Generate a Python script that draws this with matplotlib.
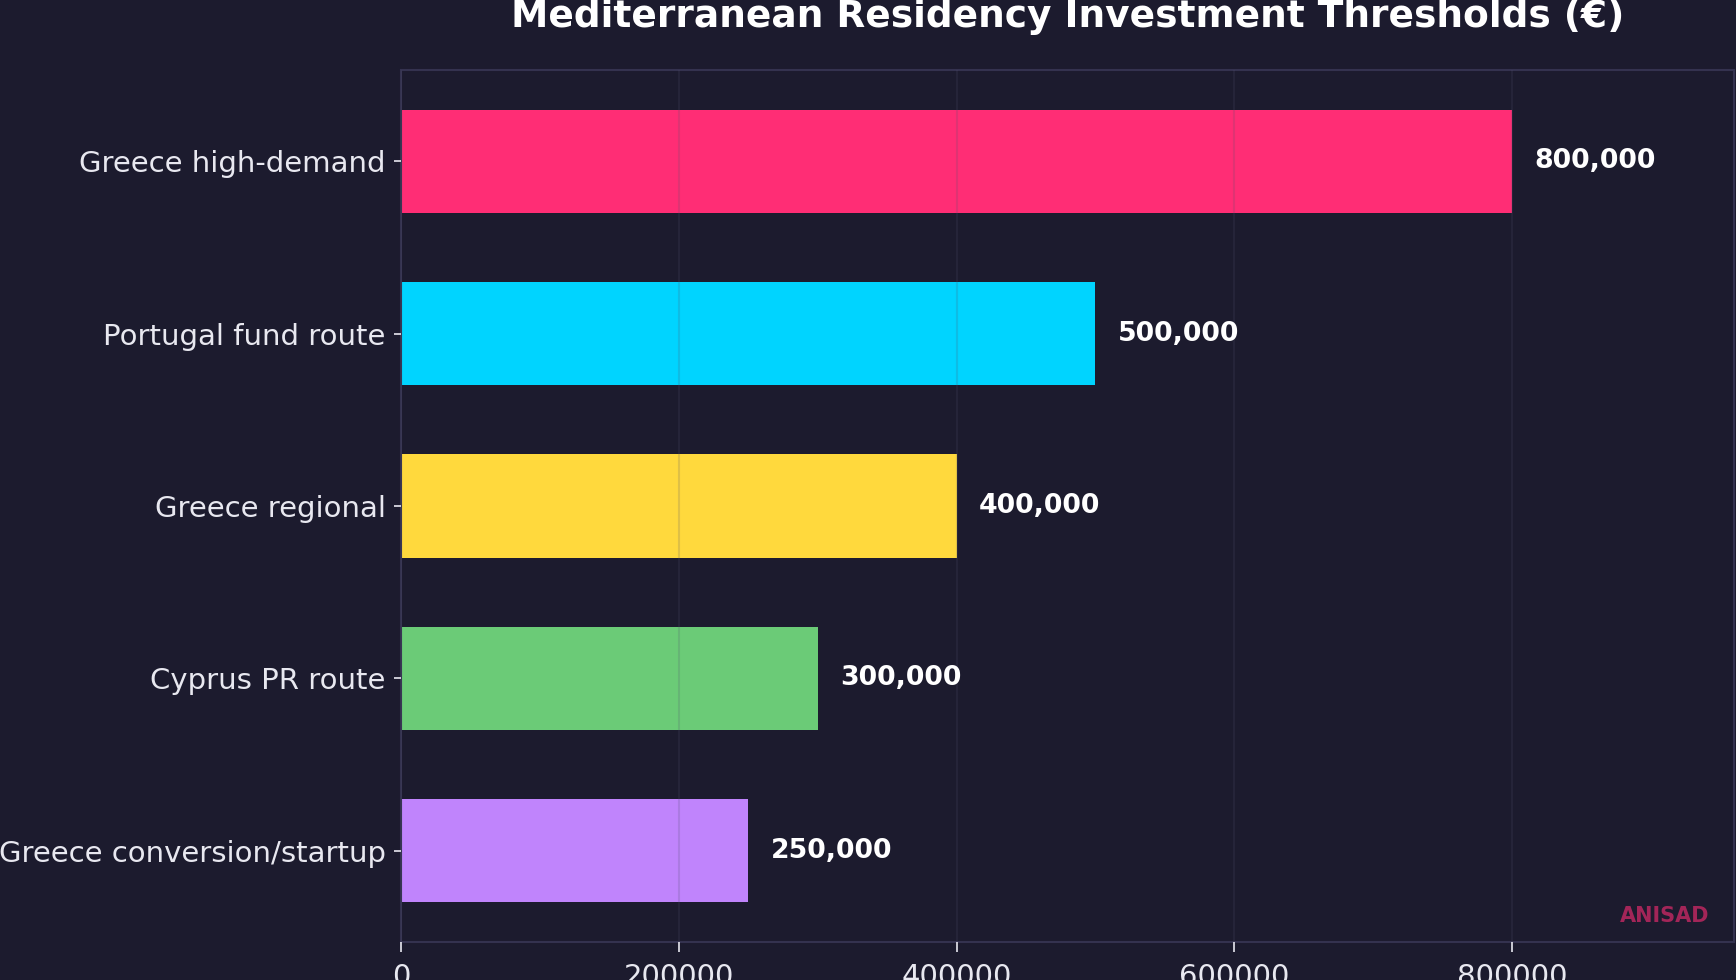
import matplotlib
matplotlib.use("Agg")
import matplotlib.pyplot as plt

categories = ["Greece high-demand", "Portugal fund route", "Greece regional",
              "Cyprus PR route", "Greece conversion/startup"]
values = [800000, 500000, 400000, 300000, 250000]
colors = ["#ff2d75", "#00d4ff", "#ffd93d", "#6bcb77", "#c084fc"]
value_labels = ["800,000", "500,000", "400,000", "300,000", "250,000"]
xticks = [0, 200000, 400000, 600000, 800000]

BG = "#1c1b2e"
fig = plt.figure(figsize=(17.36, 9.8), dpi=100, facecolor=BG)
ax = fig.add_axes([0.231, 0.0388, 0.768, 0.8898])
ax.set_facecolor(BG)

ypos = list(range(len(categories)))
ax.barh(ypos, values, height=0.6, color=colors, zorder=1)
ax.set_yticks(ypos)
ax.set_yticklabels(categories)
ax.invert_yaxis()
ax.set_xlim(0, max(values) * 1.2)
ax.set_xticks(xticks)
ax.set_xticklabels([str(t) for t in xticks])

for y, v, lab in zip(ypos, values, value_labels):
    ax.text(v + max(values) * 0.02, y, lab, va="center", ha="left",
            color="white", fontsize=19.3, fontweight="bold", zorder=3)

ax.set_axisbelow(False)
ax.grid(axis="x", color="#50506e", alpha=0.18, linewidth=1.5, zorder=2)
ax.grid(axis="y", visible=False)

for s in ax.spines.values():
    s.set_color("#34324f")
    s.set_linewidth(1.5)

ax.tick_params(axis="y", colors="#e8e8f0", labelsize=21, length=5, width=1.2, pad=6)
ax.tick_params(axis="x", colors="#e8e8f0", labelsize=21, length=7, width=1.2, pad=8)

ax.set_title("Mediterranean Residency Investment Thresholds (€)", color="white",
             fontsize=27, fontweight="bold", pad=31)

ax.text(0.981, 0.018, "ANISAD", transform=ax.transAxes, ha="right", va="bottom",
        color="#ff2d75", alpha=0.6, fontsize=15, fontweight="bold")

fig.savefig("out.png", dpi=100, facecolor=BG)
